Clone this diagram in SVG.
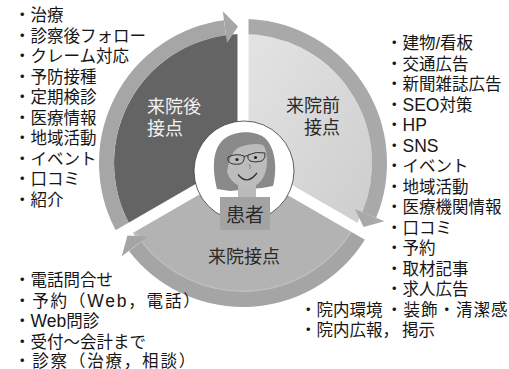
<svg xmlns="http://www.w3.org/2000/svg" width="509" height="369" viewBox="0 0 509 369">
  <defs>
    <linearGradient id="gradBefore" x1="0" y1="0" x2="1" y2="1">
      <stop offset="0" stop-color="#e4e4e4"/>
      <stop offset="1" stop-color="#cdcdcd"/>
    </linearGradient>
  </defs>
  <style>
    .list { font-family: "Liberation Sans", "Noto Sans CJK JP", sans-serif; font-size: 16.5px; fill: #161616; }
    .lat { font-size: 17.5px; }
    .wide { letter-spacing: 1.8px; }
    .seg { font-family: "Noto Sans CJK JP", sans-serif; font-size: 18px; }
    .band { fill: none; stroke-width: 15; }
    .divider { stroke: #ffffff; stroke-width: 11; }
  </style>

  <rect width="509" height="369" fill="#ffffff"/>

  <!-- sector fills (centre 243,163; inner radius 129) -->
  <g id="node-before">
    <path d="M243,163 L243,34 A129,129 0 0 1 354.7,227.5 Z" fill="url(#gradBefore)"/>
  </g>
  <g id="node-visit">
    <path d="M243,163 L354.7,227.5 A129,129 0 0 1 131.3,227.5 Z" fill="#b3b3b3"/>
    <path d="M354.7,227.5 A129,129 0 0 1 131.3,227.5" fill="none" stroke="#bebebe" stroke-width="3"/>
  </g>
  <g id="node-after">
    <path d="M243,163 L131.3,227.5 A129,129 0 0 1 243,34 Z" fill="#646464"/>
  </g>

  <!-- cycle arrows: outer bands with heads -->
  <g id="connectors">
    <path class="band" stroke="#a9a9a9" d="M243,26.5 A136.5,136.5 0 0 1 369.2,215"/>
    <path class="band" stroke="#a5a5a5" d="M361.2,231.25 A136.5,136.5 0 0 1 134.9,246.3"/>
    <path class="band" stroke="#a6a6a6" d="M124.8,231.25 A136.5,136.5 0 0 1 224.9,27.7"/>
    <!-- white gaps between the sectors -->
    <line class="divider" x1="243" y1="163" x2="243" y2="-2"/>
    <line class="divider" x1="243" y1="163" x2="385.9" y2="245.5"/>
    <line class="divider" x1="243" y1="163" x2="100.1" y2="245.5"/>
    <polygon fill="#a9a9a9" points="354.9,209.1 384.4,221.3 363.6,226.9"/>
    <polygon fill="#a5a5a5" points="147.1,236.8 121.8,256.3 127.4,235.5"/>
    <polygon fill="#a6a6a6" points="227,43.1 222.8,11.3 238,26.6"/>
  </g>

  <!-- patient portrait -->
  <g id="node-patient">
    <circle cx="244" cy="171" r="50" fill="#ffffff" stroke="#3a3a3a" stroke-width="0.8"/>
    <path d="M217,189 C212,170 212,149 224,139 C235,130 257,130 266,139 C276,150 277,170 273,186 L262,188 L230,191 Z" fill="#8a8a8a"/>
    <rect x="238" y="182" width="18" height="18" fill="#bababa"/>
    <path d="M227,172 C229,158 233,150 240,147 C248,144 257,143 263,145 C267,150 268,160 266,170 C263,182 255,188 247,188 C237,187 230,181 227,172 Z" fill="#bcbcbc"/>
    <!-- glasses -->
    <path d="M228,157 Q236,153 244,156 Q245,162 240,164 Q232,165 229,162 Q227,160 228,157 Z" fill="none" stroke="#333333" stroke-width="1"/>
    <path d="M248,155 Q256,151 265,153 Q266,158 262,161 Q254,163 250,161 Q247,159 248,155 Z" fill="none" stroke="#333333" stroke-width="1"/>
    <path d="M244,157 Q246,155 248,156" fill="none" stroke="#333333" stroke-width="1"/>
    <circle cx="237" cy="159.5" r="1.6" fill="#222222"/>
    <circle cx="255.5" cy="157.5" r="1.6" fill="#222222"/>
    <path d="M249,164 Q251.5,167 249.5,169" fill="none" stroke="#7a7a7a" stroke-width="0.9"/>
    <path d="M238,174.5 Q247,186 257,173" fill="none" stroke="#333333" stroke-width="1.3"/>
    <rect x="220" y="197" width="50" height="33" fill="#a3a3a3"/>
    <text x="245" y="222" text-anchor="middle" font-family="Noto Sans CJK JP, sans-serif" font-size="19" fill="#2a2a2a">患者</text>
  </g>

  <!-- sector titles -->
  <g class="seg">
    <text x="147" y="113" fill="#f2f2f2">来院後</text>
    <text x="147" y="134.5" fill="#f2f2f2">接点</text>
    <text x="340" y="112" text-anchor="end" fill="#2a2a2a">来院前</text>
    <text x="340" y="134" text-anchor="end" fill="#2a2a2a">接点</text>
    <text x="244" y="263" text-anchor="middle" fill="#2a2a2a">来院接点</text>
  </g>

  <!-- after-visit touch points -->
  <g id="list-after" class="list">
    <text x="14" y="21">・治療</text>
    <text x="14" y="41.5">・診察後フォロー</text>
    <text x="14" y="62">・クレーム対応</text>
    <text x="14" y="82.5">・予防接種</text>
    <text x="14" y="103">・定期検診</text>
    <text x="14" y="123.5">・医療情報</text>
    <text x="14" y="144">・地域活動</text>
    <text x="14" y="164.5">・イベント</text>
    <text x="14" y="185">・口コミ</text>
    <text x="14" y="205.5">・紹介</text>
  </g>

  <!-- pre-visit touch points -->
  <g id="list-before" class="list">
    <text x="386" y="49.3">・建物/看板</text>
    <text x="386" y="69.8">・交通広告</text>
    <text x="386" y="90.3">・新聞雑誌広告</text>
    <text x="386" y="110.8">・<tspan class="lat">SEO</tspan>対策</text>
    <text x="386" y="131.3">・<tspan class="lat">HP</tspan></text>
    <text x="386" y="151.8">・<tspan class="lat">SNS</tspan></text>
    <text x="386" y="172.3">・イベント</text>
    <text x="386" y="192.8">・地域活動</text>
    <text x="386" y="213.3">・医療機関情報</text>
    <text x="386" y="233.8">・口コミ</text>
    <text x="386" y="254.3">・予約</text>
    <text x="386" y="274.8">・取材記事</text>
    <text x="386" y="295.3">・求人広告</text>
    <text x="300" y="315.8">・院内環境<tspan x="386" letter-spacing="1">・装飾・清潔感</tspan></text>
    <text x="300" y="336.3">・院内広報，<tspan x="402">掲示</tspan></text>
  </g>

  <!-- visit touch points -->
  <g id="list-visit" class="list">
    <text x="14" y="286">・電話問合せ</text>
    <text x="14" y="306.5" class="wide">・予約（<tspan class="lat">Web</tspan>，電話）</text>
    <text x="14" y="327">・<tspan class="lat">Web</tspan>問診</text>
    <text x="14" y="347.5">・受付〜会計まで</text>
    <text x="14" y="367" class="wide">・診察（治療，相談）</text>
  </g>
</svg>
